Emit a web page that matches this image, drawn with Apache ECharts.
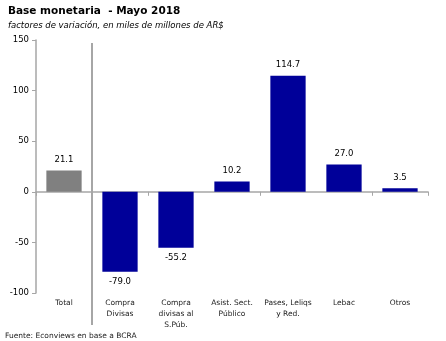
<!DOCTYPE html>
<html><head><meta charset="utf-8">
<script src="https://cdn.jsdelivr.net/npm/echarts@6/dist/echarts.min.js"></script>
<style>html,body{margin:0;padding:0;background:#fff}#c{width:446px;height:341px}</style>
</head><body><div id="c"></div>
<script>
var categories = ['Total', 'Compra\nDivisas', 'Compra\ndivisas al\nS.Púb.', 'Asist. Sect.\nPúblico', 'Pases, Leliqs\ny Red.', 'Lebac', 'Otros'];
var values = [21.1, -79.0, -55.2, 10.2, 114.7, 27.0, 3.5];
var barColors = ['#808080', '#000099', '#000099', '#000099', '#000099', '#000099', '#000099'];
var yTicks = {min: -100, max: 150, interval: 50};

var font = 'Tahoma, "DejaVu Sans", sans-serif';
var chart = echarts.init(document.getElementById('c'));
chart.setOption({
  animation: false,
  backgroundColor: '#fff',
  title: [
    {text: 'Base monetaria  - Mayo 2018', left: 3, top: 1, textStyle: {fontFamily: font, fontSize: 10.5, fontWeight: 'bold', color: '#000'}},
    {text: 'factores de variación, en miles de millones de AR$', left: 3, top: 16, textStyle: {fontFamily: font, fontSize: 8.5, fontStyle: 'italic', fontWeight: 'normal', color: '#000'}},
    {text: 'Fuente: Econviews en base a BCRA', left: 0, top: 327, textStyle: {fontFamily: font, fontSize: 7.5, fontWeight: 'normal', color: '#222'}}
  ],
  grid: {left: 36, right: 18, top: 40, bottom: 48},
  xAxis: [
    {type: 'category', data: categories, position: 'bottom',
     axisLine: {onZero: true, lineStyle: {color: '#a6a6a6', width: 1.5}},
     axisTick: {show: true, length: 4, lineStyle: {color: '#a6a6a6'}},
     axisLabel: {show: false}},
    {type: 'category', data: categories, position: 'bottom',
     axisLine: {show: false, onZero: false}, axisTick: {show: false},
     axisLabel: {show: true, interval: 0, margin: 5, fontFamily: font, fontSize: 7.5, color: '#222', lineHeight: 11}}
  ],
  yAxis: {type: 'value', min: yTicks.min, max: yTicks.max, interval: yTicks.interval,
    splitLine: {show: false},
    axisLine: {show: true, lineStyle: {color: '#a6a6a6', width: 1.5}},
    axisTick: {show: true, length: 4, lineStyle: {color: '#a6a6a6'}},
    axisLabel: {fontFamily: font, fontSize: 8.5, color: '#000', margin: 7}},
  series: [{
    type: 'bar', xAxisIndex: 0, barWidth: '63%',
    data: values.map(function(v, i){ return {value: v, itemStyle: {color: barColors[i]}}; }),
    label: {show: true, position: 'outside', formatter: function(p){ return p.value.toFixed(1); },
      fontFamily: font, fontSize: 8.5, color: '#000', distance: 6}
  }]
});
// Separator line between the first and second categories
var p0 = chart.convertToPixel({xAxisIndex: 0}, 0);
var p1 = chart.convertToPixel({xAxisIndex: 0}, 1);
var xs = (p0 + p1) / 2;
var yTop = chart.convertToPixel({yAxisIndex: 0}, yTicks.max);
var yBot = chart.convertToPixel({yAxisIndex: 0}, yTicks.min);
chart.setOption({graphic: [{type: 'line', shape: {x1: xs, y1: yTop + 3, x2: xs, y2: yBot + 32}, style: {stroke: '#a6a6a6', lineWidth: 2}}]});
</script></body></html>
